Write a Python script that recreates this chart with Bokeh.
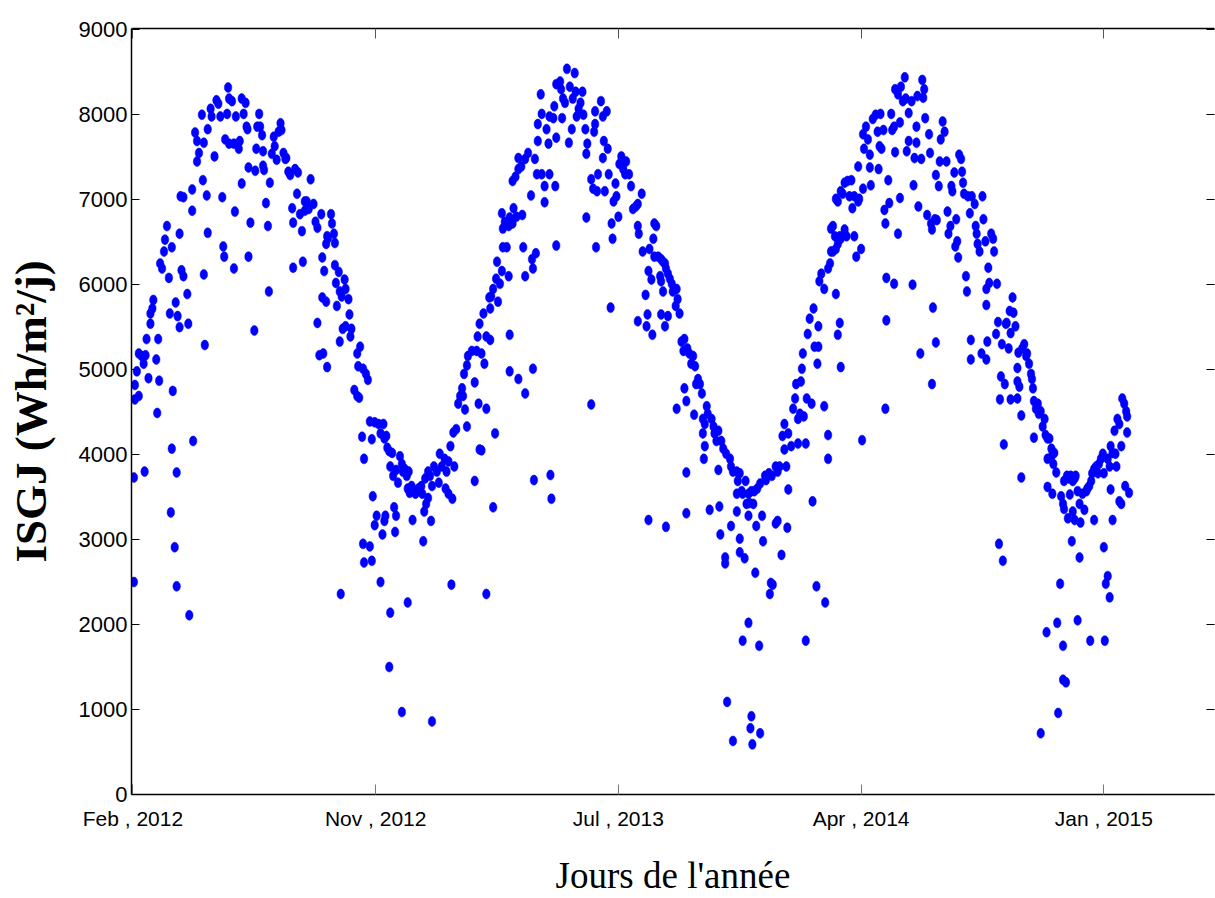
from bokeh.plotting import figure
from bokeh.models import Range1d, LinearAxis, FixedTicker, ColumnDataSource
from bokeh.embed import file_html
from bokeh.resources import INLINE

# Daily global solar irradiation (Wh/m²/day), day index counted from 1 Feb 2012.
# Each block holds (day, value) readings for one stretch of the record.
obs_feb_jul_2012 = [
    (1, 3730), (1, 2500), (2, 4820), (2, 4650), (4, 4980), (6, 4690), (12, 3800), (6, 5190),
    (9, 5160), (11, 5070), (13, 5170), (16, 4900), (14, 5360), (18, 5540), (18, 5660), (20, 5720),
    (21, 5820), (24, 5120), (25, 4490), (26, 5360), (27, 4870), (28, 6250), (30, 6190), (32, 6390),
    (33, 6530), (35, 6690), (37, 6080), (38, 5660), (40, 6440), (41, 4750), (40, 4070), (39, 3320),
    (43, 2910), (45, 3790), (45, 2450), (44, 5790), (46, 5630), (48, 5500), (48, 6600), (50, 6170),
    (52, 6100), (49, 7040), (52, 7030), (56, 5890), (57, 5540), (58, 2110), (61, 6870), (61, 7120),
    (62, 4160), (64, 7790), (66, 7690), (66, 7450), (68, 7550), (71, 8000), (72, 7230), (73, 7670),
    (73, 6120), (74, 5290), (76, 7050), (77, 7830), (77, 6610), (80, 8070), (81, 7980), (84, 7510),
    (86, 8170), (88, 8130), (90, 7980), (92, 7030), (93, 6450), (94, 6330), (95, 7710), (97, 8010),
    (98, 8320), (99, 8190), (99, 7660), (102, 8160), (104, 7660), (104, 6190), (105, 6860),
    (106, 7980), (109, 7600), (110, 7690), (112, 7190), (112, 8190), (114, 8010), (116, 8140),
    (117, 7860), (118, 7830), (119, 7380), (119, 6330), (121, 6730), (125, 5460), (126, 7340),
    (127, 7600), (128, 7860), (130, 8010), (131, 7860), (133, 7760), (134, 7570), (134, 7400),
    (135, 7350), (137, 6960), (139, 6690), (140, 5920), (141, 7200), (143, 7540), (145, 7740),
    (146, 7630), (148, 7470), (150, 7800), (152, 7900), (153, 7820), (155, 7550), (157, 7480),
    (158, 7490), (160, 7330), (162, 7290), (164, 6900), (165, 6200), (165, 6730), (167, 7360),
    (169, 7070), (170, 7320), (172, 6830), (174, 6630), (175, 6270), (177, 6870), (177, 6980),
]

obs_aug_2012_jan_2013 = [
    (183, 7240), (179, 6980), (181, 6890), (186, 6950), (188, 6740), (190, 6670), (194, 6830),
    (195, 6320), (197, 6160), (199, 6480), (200, 6570), (201, 6550), (204, 6830), (205, 6720),
    (207, 6600), (208, 6490), (208, 6230), (190, 5550), (195, 5850), (199, 5800), (192, 5170),
    (196, 5190), (200, 5030), (209, 6020), (212, 6150), (210, 5750), (213, 5920), (215, 5860),
    (218, 6060), (219, 5950), (222, 5830), (213, 5330), (216, 5480), (219, 5510), (224, 5390),
    (225, 5480), (223, 5650), (231, 5190), (234, 5270), (232, 5040), (237, 5010), (240, 4950),
    (242, 4880), (228, 4760), (231, 4690), (233, 4670), (214, 2360), (236, 4210), (238, 3950),
    (244, 4390), (246, 4180), (249, 4380), (253, 4360), (255, 4250), (258, 4360), (259, 4190),
    (261, 4220), (262, 4080), (264, 4040), (267, 4020), (265, 3860), (268, 3750), (271, 3820),
    (273, 3670), (275, 3980), (277, 3890), (278, 3800), (280, 3830), (282, 3750), (284, 3800),
    (283, 3600), (285, 3550), (287, 3630), (291, 3540), (294, 3600), (297, 3630), (298, 3540),
    (301, 3720), (304, 3800), (306, 3750), (308, 3630), (310, 3860), (313, 3800), (315, 3670),
    (316, 4010), (318, 3860), (321, 3950), (323, 3800), (325, 3920), (327, 4100), (330, 4260),
    (331, 3860), (322, 3600), (325, 3540), (329, 3480), (247, 3510), (251, 3280), (249, 3170),
    (257, 3060), (259, 3220), (260, 3280), (269, 3380), (271, 3280), (270, 3090), (237, 2950),
    (244, 2920), (238, 2730), (246, 2750), (255, 2500), (265, 2140), (264, 1500), (283, 2260),
    (277, 970), (288, 3230), (300, 3330), (302, 3420), (304, 3490), (307, 3220), (299, 2980),
    (308, 860), (328, 2470), (333, 4300), (335, 4600), (337, 4690), (340, 4690), (342, 4530),
    (339, 4780), (341, 4950), (344, 5050), (345, 5160), (349, 5220), (352, 4850), (354, 5220),
    (355, 5390), (357, 5540), (344, 4330), (352, 3690), (356, 4600), (357, 4060),
]

obs_feb_jul_2013 = [
    (361, 5660), (364, 5390), (368, 5350), (359, 5190), (362, 5070), (364, 4540), (359, 4050),
    (373, 4250), (371, 3380), (364, 2360), (368, 5720), (369, 5860), (371, 5950), (367, 5850),
    (374, 6070), (375, 6270), (376, 5800), (378, 6010), (380, 6160), (381, 6440), (385, 6440),
    (387, 6100), (381, 6660), (380, 6840), (383, 6740), (387, 6690), (388, 6790), (391, 6720),
    (392, 6900), (395, 6800), (401, 6820), (388, 5410), (388, 4980), (397, 4890), (404, 4720),
    (402, 6440), (404, 6100), (411, 6300), (412, 6190), (415, 6370), (412, 5010), (413, 3700),
    (410, 7050), (391, 7220), (394, 7270), (397, 7360), (397, 7490), (400, 7390), (404, 7480),
    (407, 7550), (414, 7480), (416, 7300), (421, 7300), (424, 7160), (424, 6970), (429, 7300),
    (435, 7160), (436, 6460), (430, 3760), (431, 3480), (417, 7690), (417, 7890), (420, 8240),
    (421, 8010), (426, 7830), (428, 7660), (429, 7980), (433, 7960), (434, 8100), (436, 7730),
    (436, 8360), (440, 8390), (441, 8300), (443, 8190), (445, 8140), (442, 7960), (447, 8540),
    (450, 8330), (449, 7670), (452, 7830), (453, 8190), (455, 8490), (456, 8270), (457, 7980),
    (459, 8070), (461, 8140), (463, 8270), (464, 8000), (466, 7830), (467, 7540), (468, 7660),
    (467, 6790), (472, 7240), (472, 4590), (474, 7130), (475, 7800), (476, 7890), (476, 8040),
    (477, 6440), (478, 7100), (479, 7300), (482, 8160), (484, 7490), (484, 7980), (485, 7690),
    (486, 7100), (488, 8040), (489, 7600), (490, 7300), (492, 5730), (493, 6720), (494, 6540),
    (495, 6980), (497, 7190), (498, 7040), (500, 6800), (501, 7420), (503, 7510), (505, 7360),
    (507, 7300), (508, 7450), (511, 7300), (513, 7160), (515, 6890), (518, 6920), (520, 6950),
    (520, 6690), (521, 6600), (524, 7070), (525, 6390), (520, 5570), (528, 5880), (529, 5510),
    (530, 5650), (531, 6160), (532, 6420), (534, 6060), (535, 5410), (536, 6540), (537, 6720),
    (537, 6330), (531, 3230),
]

obs_aug_2013_jan_2014 = [
    (539, 6690), (541, 6330), (544, 6300), (546, 6270), (548, 6250), (549, 6190), (551, 6130),
    (553, 6070), (555, 6010), (543, 6100), (544, 6040), (546, 5920), (556, 5920), (560, 5950),
    (561, 5830), (559, 5750), (563, 5660), (544, 5650), (548, 5510), (551, 5630), (565, 5330),
    (568, 5360), (567, 5220), (571, 5250), (573, 5190), (577, 5160), (575, 5070), (579, 5040),
    (582, 4890), (584, 4830), (586, 4720), (580, 4830), (568, 4780), (570, 4630), (560, 4540),
    (578, 4470), (587, 4420), (591, 4570), (592, 4480), (589, 4360), (587, 4250), (596, 4420),
    (598, 4330), (599, 4250), (601, 4160), (603, 4280), (606, 4160), (608, 4070), (611, 4010),
    (615, 3950), (616, 3860), (618, 3800), (622, 3800), (623, 3690), (625, 3780), (628, 3540),
    (631, 3690), (634, 3540), (637, 3570), (640, 3570), (643, 3600), (646, 3660), (651, 3750),
    (652, 3700), (655, 3780), (658, 3750), (662, 3860), (664, 3800), (622, 3540), (627, 3570),
    (632, 3420), (635, 3430), (639, 3420), (589, 4100), (588, 3950), (603, 3820), (570, 3790),
    (570, 3310), (549, 3150), (594, 3350), (604, 3390), (605, 3060), (610, 2790), (610, 2720),
    (616, 3160), (622, 3330), (625, 3010), (625, 2850), (630, 2780), (634, 3280), (642, 3160),
    (648, 3280), (649, 2980), (641, 2610), (634, 2020), (628, 1810), (645, 1750), (657, 2490),
    (656, 2360), (659, 2470), (662, 3190), (664, 3220), (668, 2820), (674, 3140), (612, 1090),
    (618, 630), (637, 920), (636, 780), (638, 590), (646, 720), (666, 3860), (669, 4220),
    (671, 4060), (671, 4360), (673, 3860), (675, 4250), (675, 3590), (678, 4100), (680, 4540),
    (682, 4660), (683, 4830), (685, 4420), (685, 4130), (687, 4480), (688, 4860), (689, 5010),
    (690, 5190), (691, 4450), (693, 4130), (694, 4660), (695, 5420), (697, 5600), (699, 4600),
    (700, 3450), (701, 5720), (702, 5270), (704, 2450), (705, 5070), (706, 5270), (706, 5510),
    (707, 6040), (709, 6130), (712, 5950), (712, 4570), (713, 2260), (716, 4230), (716, 3950),
    (718, 6250), (719, 6660), (719, 6390), (716, 6190), (693, 1810),
]

obs_feb_jul_2014 = [
    (721, 6690), (723, 6570), (721, 6390), (724, 6420), (726, 6480), (728, 6570), (729, 6540),
    (733, 6650), (735, 6570), (724, 5890), (728, 5550), (726, 5410), (729, 5030), (724, 7010),
    (726, 6980), (729, 7100), (731, 7070), (733, 7200), (736, 7220), (738, 7040), (740, 7230),
    (741, 6900), (743, 7040), (743, 6570), (745, 6330), (747, 6980), (748, 7010), (750, 6420),
    (752, 7130), (747, 7390), (752, 7770), (753, 7600), (755, 7860), (757, 7710), (759, 7530),
    (759, 7380), (760, 7170), (762, 7950), (765, 8000), (767, 7800), (769, 7630), (770, 8010),
    (771, 7600), (768, 7360), (773, 7820), (775, 6720), (774, 6880), (778, 7230), (779, 6960),
    (776, 6080), (776, 5580), (775, 4540), (751, 4170), (781, 8010), (782, 7820), (784, 7860),
    (785, 7560), (784, 6010), (788, 6600), (790, 7020), (790, 7910), (785, 8300), (788, 8240),
    (791, 8330), (793, 8160), (795, 8440), (796, 8190), (797, 7570), (799, 7690), (799, 8020),
    (802, 8160), (803, 6000), (804, 7170), (805, 7490), (807, 7860), (807, 7670), (808, 8220),
    (809, 6920), (811, 5190), (812, 7480), (813, 8410), (814, 8200), (815, 8300), (816, 7960),
    (818, 6820), (820, 7770), (821, 7550), (822, 6720), (823, 6650), (824, 5730), (823, 4830),
    (826, 6770), (827, 7290), (828, 6760), (827, 5320), (831, 7450), (830, 7160), (832, 7710),
    (834, 7920), (836, 7800), (838, 7450), (839, 6860), (840, 6600), (842, 6690), (843, 7160),
    (844, 7100), (846, 7320), (847, 6450), (849, 6510), (850, 6320), (848, 6770), (851, 7530),
    (853, 7480), (854, 7330), (855, 7200), (856, 7070), (858, 6100), (859, 5920), (860, 7040),
    (862, 6840), (863, 5350), (863, 5120), (864, 7040), (867, 6950), (868, 6690), (869, 6600),
    (870, 6480), (872, 6390), (874, 5190), (875, 7040), (876, 6770), (878, 6510), (879, 5950),
    (879, 5120), (880, 5330), (881, 6200), (882, 6020), (879, 5760), (884, 6600), (886, 6540),
    (887, 6390), (889, 5420), (890, 6010), (891, 5560), (892, 2950), (893, 4650), (894, 4920),
    (895, 5300), (896, 2750), (897, 4120), (898, 4830), (899, 5540),
]

obs_aug_2014_feb_2015 = [
    (900, 5550), (903, 5690), (906, 5850), (907, 5670), (909, 5510), (904, 5430), (902, 5250),
    (911, 5020), (911, 4860), (913, 4800), (911, 4660), (904, 4650), (915, 4460), (915, 3730),
    (912, 5200), (916, 5250), (918, 5300), (920, 5160), (921, 5190), (923, 5070), (925, 4950),
    (926, 4890), (927, 4780), (928, 4630), (930, 4540), (932, 4600), (933, 4480), (935, 4510),
    (937, 4330), (939, 4420), (940, 4230), (942, 4190), (944, 4190), (946, 4070), (947, 4000),
    (949, 4020), (942, 3950), (948, 3890), (951, 3790), (928, 4200), (942, 3620), (947, 3540),
    (956, 3510), (958, 3420), (959, 3690), (962, 3750), (964, 3720), (966, 3750), (968, 3690),
    (970, 3720), (971, 3750), (965, 3530), (959, 3360), (963, 3250), (968, 3330), (970, 3230),
    (973, 3570), (975, 3420), (976, 3200), (978, 3540), (980, 3350), (982, 3570), (983, 3600),
    (985, 3630), (987, 3690), (988, 3780), (990, 3830), (992, 3860), (994, 3780), (995, 3890),
    (997, 3950), (999, 4010), (1000, 3780), (1004, 3950), (1006, 3860), (1007, 4100),
    (1009, 4020), (1011, 4280), (1012, 4010), (1013, 3860), (1014, 4420), (1016, 4360),
    (1018, 4100), (1019, 4660), (1021, 4600), (1023, 4510), (1024, 4450), (1024, 4260),
    (1022, 3630), (1026, 3550), (1016, 3450), (1018, 3420), (1007, 3590), (1009, 3230),
    (990, 3230), (1000, 2910), (1002, 2480), (1004, 2570), (1006, 2320), (1001, 1810),
    (986, 1810), (973, 2050), (975, 2790), (967, 2980), (955, 2480), (952, 2020), (941, 1910),
    (958, 1750), (958, 1350), (961, 1320), (953, 960), (935, 720),
]

# Date ticks on the day axis and the irradiation ticks
tick_days = [0, 250, 500, 750, 1000]
tick_labels = ["Feb , 2012", "Nov , 2012", "Jul , 2013", "Apr , 2014", "Jan , 2015"]
isgj_ticks = [0, 1000, 2000, 3000, 4000, 5000, 6000, 7000, 8000, 9000]

blocks = [obs_feb_jul_2012, obs_aug_2012_jan_2013, obs_feb_jul_2013,
          obs_aug_2013_jan_2014, obs_feb_jul_2014, obs_aug_2014_feb_2015]
day = [d for b in blocks for d, _ in b]
isgj = [v for b in blocks for _, v in b]
source = ColumnDataSource(data=dict(day=day, isgj=isgj))

TICK_FONT = "Liberation Sans"
TITLE_FONT = "Liberation Serif"

p = figure(width=1215, height=898, output_backend="svg", toolbar_location=None,
           x_range=Range1d(-1.5, 1114), y_range=Range1d(0, 9015),
           min_border_left=131, min_border_right=1, min_border_top=28, min_border_bottom=101)
p.outline_line_color = None
p.xgrid.visible = False
p.ygrid.visible = False
p.background_fill_color = "white"
p.border_fill_color = "white"

xa = p.xaxis[0]
xa.ticker = FixedTicker(ticks=tick_days)
xa.major_label_overrides = dict(zip(tick_days, tick_labels))
xa.axis_line_color = "black"
xa.axis_line_width = 1.5
xa.major_tick_in = 10
xa.major_tick_out = 0
xa.major_tick_line_color = "#7a7a7a"
xa.minor_tick_line_color = None
xa.major_label_standoff = 12
xa.major_label_text_font = TICK_FONT
xa.major_label_text_font_size = "21px"
xa.major_label_text_color = "black"
xa.axis_label = "Jours de l'année"
xa.axis_label_text_font = TITLE_FONT
xa.axis_label_text_font_size = "37px"
xa.axis_label_text_font_style = "normal"
xa.axis_label_text_color = "black"
xa.axis_label_standoff = 22

ya = p.yaxis[0]
ya.ticker = FixedTicker(ticks=isgj_ticks)
ya.axis_line_color = "black"
ya.axis_line_width = 1.5
ya.major_tick_in = 8
ya.major_tick_out = 0
ya.major_tick_line_color = "black"
ya.minor_tick_line_color = None
ya.major_label_standoff = 4
ya.major_label_text_font = TICK_FONT
ya.major_label_text_font_size = "22px"
ya.major_label_text_color = "black"
ya.axis_label = "ISGJ (Wh/m²/j)"
ya.axis_label_text_font = TITLE_FONT
ya.axis_label_text_font_size = "45px"
ya.axis_label_text_font_style = "bold"
ya.axis_label_text_color = "black"
ya.axis_label_standoff = 20

# Box edges: ticks only on the top and right sides
top = LinearAxis(ticker=FixedTicker(ticks=tick_days), major_tick_in=10, major_tick_out=0,
                 minor_tick_line_color=None, axis_line_color="black", axis_line_width=1.5,
                 major_tick_line_color="#555555", major_label_text_font_size="0px",
                 major_label_standoff=0)
top.major_label_overrides = {t: "" for t in tick_days}
p.add_layout(top, "above")

right = LinearAxis(ticker=FixedTicker(ticks=isgj_ticks), major_tick_in=8, major_tick_out=0,
                   minor_tick_line_color=None, axis_line_color=None,
                   major_tick_line_color="black", major_label_text_font_size="0px",
                   major_label_standoff=0)
right.major_label_overrides = {t: "" for t in isgj_ticks}
p.add_layout(right, "right")

p.ellipse(x="day", y="isgj", source=source, width=7.5, height=10,
          width_units="screen", height_units="screen",
          fill_color="#0000ff", line_color="#0000ff", line_width=0.5)

open("out.html", "w").write(file_html(p, INLINE))
